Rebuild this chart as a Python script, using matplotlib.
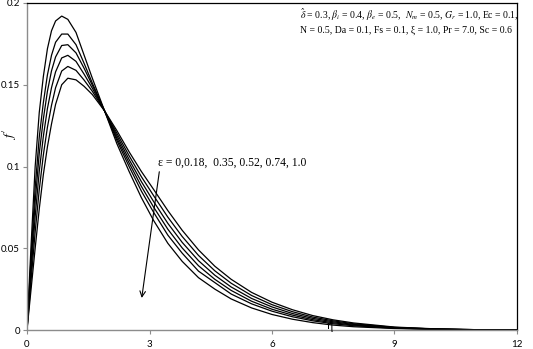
import matplotlib
matplotlib.use("Agg")
import matplotlib.pyplot as plt

# velocity profiles f' vs eta for several epsilon values
eta = [0, 0.1, 0.2, 0.3, 0.4, 0.5, 0.6, 0.7, 0.85, 1.0, 1.2, 1.4, 1.6, 1.9,
       2.2, 2.5, 2.8, 3.1, 3.45, 3.8, 4.2, 4.6, 5.0, 5.5, 6.0, 6.5, 7.0, 7.5,
       8.0, 9.0, 10.0, 11.0, 12.0]

f_eps0 = [0, .052, .100, .133, .155, .172, .183, .189, .192, .190, .182, .168,
          .154, .134, .114, .097, .081, .067, .053, .042, .032, .025, .019,
          .0135, .0095, .0066, .0045, .0030, .0020, .0009, .0004, .0001, 0]
f_eps018 = [0, .045, .087, .118, .139, .156, .168, .176, .181, .181, .1745,
            .163, .151, .134, .116, .100, .085, .072, .058, .047, .036, .029,
            .022, .016, .0115, .0081, .0056, .0038, .0026, .0011, .0005, .0001, 0]
f_eps035 = [0, .040, .0785, .108, .129, .146, .1585, .167, .174, .1745, .1695,
            .160, .1497, .134, .1174, .1022, .0879, .0752, .0616, .0502, .0393,
            .031, .0242, .0176, .0127, .0091, .0063, .0044, .0030, .0013, .0005,
            .0001, 0]
f_eps052 = [0, .0355, .0695, .097, .1184, .1354, .1482, .1579, .1664, .168,
            .1643, .1564, .1479, .134, .1189, .1043, .0908, .0786, .0652, .0536,
            .0424, .0335, .0263, .0193, .0141, .0101, .0071, .0050, .0034, .0015,
            .0006, .0002, 0]
f_eps074 = [0, .0304, .060, .0858, .107, .124, .1374, .1482, .1584, .1612,
            .1588, .1528, .146, .134, .1204, .1066, .0938, .0822, .069, .0572,
            .0456, .0362, .0286, .0211, .0155, .0112, .0079, .0056, .0038, .0016,
            .0006, .0002, 0]
f_eps1 = [0, .025, .050, .074, .095, .112, .126, .138, .150, .154, .153, .149,
          .144, .134, .122, .109, .097, .086, .073, .061, .049, .039, .031, .023,
          .0170, .0124, .0088, .0062, .0043, .0018, .0007, .0002, 0]

profiles = [f_eps0, f_eps018, f_eps035, f_eps052, f_eps074, f_eps1]

xticks = [0, 3, 6, 9, 12]
yticks = [0, 0.05, 0.1, 0.15, 0.2]
ytick_labels = ["0", "0.05", "0.1", "0.15", "0.2"]

plt.rcParams["mathtext.fontset"] = "stix"

fig = plt.figure(figsize=(5.33, 3.49), dpi=100)
ax = fig.add_axes([27 / 533, 19 / 349, 490 / 533, 327 / 349])

for f in profiles:
    ax.plot(eta, f, color="black", lw=0.9)

ax.set_xlim(0, 12)
ax.set_ylim(0, 0.2)
ax.set_xticks(xticks)
ax.set_yticks(yticks)
ax.set_yticklabels(ytick_labels)

grey = "#8c8c8c"
for side in ["left", "bottom"]:
    ax.spines[side].set_color(grey)
    ax.spines[side].set_linewidth(1.0)
for side in ["top", "right"]:
    ax.spines[side].set_color("black")
    ax.spines[side].set_linewidth(0.9)
ax.tick_params(axis="both", direction="out", length=3, width=0.8, color=grey,
               labelsize=7, pad=2)
ax.tick_params(axis="x", pad=4)
for lab in ax.get_xticklabels() + ax.get_yticklabels():
    lab.set_family("Lato")

# axis titles placed like the original
ax.text(-0.036, 0.6, r"$f\,'$", transform=ax.transAxes, fontsize=10,
        rotation=90, ha="center", va="center")
ax.text(7.42, 0.0026, "η", fontsize=8.5, family="Liberation Serif",
        ha="center", va="center")

# parameter text
serif = "Liberation Serif"
ax.text(0.557, 0.965,
        r"$\hat{\delta}$ = 0.3, $\beta_i$ = 0.4, $\beta_e$ = 0.5,  "
        r"$N_m$ = 0.5, $G_r$ = 1.0, Ec = 0.1,",
        transform=ax.transAxes, fontsize=7.0, family=serif, va="center")
ax.text(0.557, 0.915,
        "N = 0.5, Da = 0.1, Fs = 0.1, ξ = 1.0, Pr = 7.0, Sc = 0.6",
        transform=ax.transAxes, fontsize=7.0, family=serif, va="center")

# epsilon annotation with arrow
ax.text(3.2, 0.102, "ε = 0,0.18,  0.35, 0.52, 0.74, 1.0", fontsize=8.4,
        family=serif, va="center")
ax.annotate("", xy=(2.81, 0.0196), xytext=(3.24, 0.0968),
            arrowprops=dict(arrowstyle="->", color="black", lw=0.8,
                            shrinkA=0, shrinkB=0))

fig.savefig("out.png", dpi=100)
